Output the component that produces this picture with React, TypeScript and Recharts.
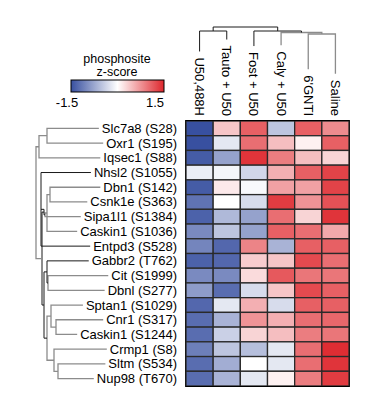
import { ReferenceArea, Scatter, ScatterChart, XAxis, YAxis } from "recharts";

const FONT = "Arial, 'Liberation Sans', sans-serif";

const COLUMNS = ["U50,488H", "Tauto + U50", "Fost + U50", "Caly + U50", "6'GNTI", "Saline"];
const ROWS = [
  "Slc7a8 (S28)",
  "Oxr1 (S195)",
  "Iqsec1 (S88)",
  "Nhsl2 (S1055)",
  "Dbn1 (S142)",
  "Csnk1e (S363)",
  "Sipa1l1 (S1384)",
  "Caskin1 (S1036)",
  "Entpd3 (S528)",
  "Gabbr2 (T762)",
  "Cit (S1999)",
  "Dbnl (S277)",
  "Sptan1 (S1029)",
  "Cnr1 (S317)",
  "Caskin1 (S1244)",
  "Crmp1 (S8)",
  "Sltm (S534)",
  "Nup98 (T670)",
];

// z-scores, one list per column, rows in the order above
const Z_U50 = [-1.5, -1.5, -1.4, -0.15, -1.4, -1.2, -1.35, -1.0, -1.05, -1.35, -1.0, -0.85, -1.3, -1.25, -1.25, -1.1, -1.25, -1.25];
const Z_TAUTO = [0.4, -0.2, -0.8, -0.08, 0.15, 0, -0.6, -0.5, -1.3, -1.3, -1.0, -1.25, -0.2, -0.65, -0.4, -0.5, -0.7, -0.65];
const Z_FOST = [1.1, 1.0, 1.4, -0.35, -0.05, -0.3, -0.8, -0.8, 0.85, 0.35, 0.25, -0.3, 0.55, 0.75, 0.3, -0.55, 0, -0.2];
const Z_CALY = [-0.5, 0.45, 0.9, 0.55, 0.65, 1.35, 1.0, 1.1, -0.65, 0.4, 1.15, 0.4, -0.3, 0.55, 0.45, -0.2, -0.2, 0.1];
const Z_GNTI = [1.1, 0.1, 0.45, 1.1, 0.65, 0.75, 0.3, 1.0, 1.1, 1.25, 0.95, 1.25, 1.1, 1.0, 0.9, 1.0, 1.0, 0.9];
const Z_SALINE = [0.8, 1.1, 0.3, 1.3, 1.3, 1.2, 1.4, 0.6, 1.1, 1.0, 0.95, 1.1, 1.1, 1.05, 0.95, 1.45, 1.4, 1.35];
const Z_COLUMNS = [Z_U50, Z_TAUTO, Z_FOST, Z_CALY, Z_GNTI, Z_SALINE];

const LEGEND_TICKS = ["-1.5", "1.5"];

const GRAY = "#8c8c8c";
const BLACK = "#1a1a1a";

// row dendrogram: [node, child, child, join depth (px from left), colour]
type Child = number | string;
const ROW_TREE: [string, Child, Child, number, string][] = [
  ["A", 0, 1, 47, GRAY],
  ["B", "A", 2, 39, GRAY],
  ["C", 4, 5, 50, GRAY],
  ["D", "C", 7, 47, GRAY],
  ["E", "D", 6, 45, GRAY],
  ["G", 3, 8, 41, BLACK],
  ["H", "G", "E", 44, BLACK],
  ["I", 10, 11, 48, GRAY],
  ["J", 9, "I", 47, BLACK],
  ["L", 13, 14, 56, GRAY],
  ["M", 12, "L", 51, GRAY],
  ["N", 16, 17, 58, GRAY],
  ["O", 15, "N", 54, GRAY],
  ["P", "M", "O", 47, GRAY],
  ["Q", "J", "P", 44, BLACK],
  ["S", "H", "Q", 42, BLACK],
  ["R", "B", "S", 36, GRAY],
];

// column dendrogram: [node, child, child, join height, colour]
const COL_TREE: [string, Child, Child, number, string][] = [
  ["W", 4, 5, 86, GRAY],
  ["Y", 3, "W", 87.5, GRAY],
  ["X", 2, "Y", 89, BLACK],
  ["U", 0, 1, 89, BLACK],
  ["T", "U", "X", 93, BLACK],
];

const W = 385;
const H = 403;
const PLOT_L = 186;
const PLOT_R = 349;
const PLOT_T = 121;
const PLOT_B = 386;
const CELL_W = (PLOT_R - PLOT_L) / COLUMNS.length;
const CELL_H = (PLOT_B - PLOT_T) / ROWS.length;
const ROW_LABEL_X = 177;
const COL_LABEL_Y = 116;
const DEND_BASE = 120;

const BLUE = [56, 80, 160];
const RED = [222, 38, 44];

function zColor(z: number) {
  const t = Math.max(-1, Math.min(1, z / 1.5));
  const c = t < 0 ? BLUE : RED;
  const a = Math.abs(t);
  const ch = c.map((v) => Math.round(255 + (v - 255) * a));
  return `rgb(${ch[0]},${ch[1]},${ch[2]})`;
}

let ctx: CanvasRenderingContext2D | null = null;
function textWidth(s: string) {
  if (!ctx && typeof document !== "undefined") ctx = document.createElement("canvas").getContext("2d");
  if (!ctx) return s.length * 7;
  ctx.font = `13px ${FONT}`;
  return ctx.measureText(s).width;
}

// each link: child a -> join -> child b, as [depth, position] pairs
function buildLinks(tree: [string, Child, Child, number, string][], leaf: (i: number) => [number, number]) {
  const pos: Record<string, [number, number]> = {};
  const get = (c: Child) => (typeof c === "number" ? leaf(c) : pos[c]);
  return tree.map(([id, a, b, h, color]) => {
    const pa = get(a);
    const pb = get(b);
    pos[id] = [h, (pa[1] + pb[1]) / 2];
    return {
      id,
      color,
      points: [
        { d: pa[0], k: pa[1] },
        { d: h, k: pa[1] },
        { d: h, k: pb[1] },
        { d: pb[0], k: pb[1] },
      ],
    };
  });
}

const cells = ROWS.flatMap((_, r) => Z_COLUMNS.map((col, c) => ({ x: c, y: r, z: col[r] })));

const ColTick = (props: any) => {
  const { x, payload } = props;
  return (
    <text
      x={x}
      y={COL_LABEL_Y}
      transform={`rotate(90 ${x} ${COL_LABEL_Y})`}
      textAnchor="end"
      dominantBaseline="central"
      fontSize={13}
      fontFamily={FONT}
      fill="#000"
    >
      {COLUMNS[payload.value]}
    </text>
  );
};

const RowTick = (props: any) => {
  const { y, payload } = props;
  return (
    <text x={ROW_LABEL_X} y={y} textAnchor="end" dominantBaseline="central" fontSize={13} fontFamily={FONT} fill="#000">
      {ROWS[payload.value]}
    </text>
  );
};

const CellShape = (p: any) => (
  <rect
    x={p.cx - CELL_W / 2}
    y={p.cy - CELL_H / 2}
    width={CELL_W}
    height={CELL_H}
    fill={zColor(p.payload.z)}
    stroke="#2a2a2a"
    strokeWidth={1.3}
  />
);

const NoDot = () => <g />;

const layer = { position: "absolute" as const, left: 0, top: 0 };

export default function App() {
  const rowLinks = buildLinks(ROW_TREE, (i) => [ROW_LABEL_X - textWidth(ROWS[i]) - 3, i]);
  const colLinks = buildLinks(COL_TREE, (i) => [DEND_BASE - (COL_LABEL_Y - textWidth(COLUMNS[i]) - 6), i]);

  return (
    <div style={{ position: "absolute", left: 0, top: 0, width: W, height: H, background: "#fff" }}>
      <div style={layer}>
        <ScatterChart width={W} height={H} margin={{ top: PLOT_T - 80, left: PLOT_L - 150, right: W - PLOT_R, bottom: H - PLOT_B }}>
          <XAxis
            dataKey="x"
            type="number"
            orientation="top"
            domain={[-0.5, 5.5]}
            ticks={[0, 1, 2, 3, 4, 5]}
            interval={0}
            allowDataOverflow
            height={80}
            axisLine={false}
            tickLine={false}
            tick={<ColTick />}
          />
          <YAxis
            dataKey="y"
            type="number"
            domain={[-0.5, 17.5]}
            ticks={ROWS.map((_, i) => i)}
            interval={0}
            reversed
            allowDataOverflow
            width={150}
            axisLine={false}
            tickLine={false}
            tick={<RowTick />}
          />
          <Scatter data={cells} shape={<CellShape />} isAnimationActive={false} />
          <ReferenceArea x1={-0.5} x2={5.5} y1={-0.5} y2={17.5} fill="none" stroke="#000" strokeWidth={1.8} ifOverflow="visible" />
        </ScatterChart>
      </div>

      <div style={layer}>
        <ScatterChart width={W} height={H} margin={{ top: PLOT_T, left: 0, right: 0, bottom: H - PLOT_B }}>
          <XAxis dataKey="d" type="number" domain={[0, W]} allowDataOverflow hide />
          <YAxis dataKey="k" type="number" domain={[-0.5, 17.5]} reversed allowDataOverflow hide />
          {rowLinks.map((l) => (
            <Scatter
              key={l.id}
              data={l.points}
              line={{ stroke: l.color, strokeWidth: l.color === GRAY ? 1.3 : 1 }}
              lineType="joint"
              shape={NoDot}
              isAnimationActive={false}
            />
          ))}
        </ScatterChart>
      </div>

      <div style={layer}>
        <ScatterChart width={W} height={H} margin={{ top: 20, left: PLOT_L, right: W - PLOT_R, bottom: H - DEND_BASE }}>
          <XAxis dataKey="x" type="number" domain={[-0.5, 5.5]} allowDataOverflow hide />
          <YAxis dataKey="y" type="number" domain={[0, 100]} allowDataOverflow hide />
          {colLinks.map((l) => (
            <Scatter
              key={l.id}
              data={l.points.map((p) => ({ x: p.k, y: p.d }))}
              line={{ stroke: l.color, strokeWidth: l.color === GRAY ? 1.3 : 1 }}
              lineType="joint"
              shape={NoDot}
              isAnimationActive={false}
            />
          ))}
        </ScatterChart>
      </div>

      <svg style={layer} width={W} height={120}>
        <defs>
          <linearGradient id="zgrad" x1="0" x2="1" y1="0" y2="0">
            <stop offset="0%" stopColor={zColor(-1.5)} />
            <stop offset="50%" stopColor="#fff" />
            <stop offset="100%" stopColor={zColor(1.5)} />
          </linearGradient>
        </defs>
        <text x={117} y={59} textAnchor="middle" dominantBaseline="central" fontSize={12.5} fontFamily={FONT}>
          phosphosite
        </text>
        <text x={117} y={72} textAnchor="middle" dominantBaseline="central" fontSize={12.5} fontFamily={FONT}>
          z-score
        </text>
        <rect x={71} y={80} width={93} height={12} fill="url(#zgrad)" stroke="#000" strokeWidth={1} />
        <text x={67} y={102} textAnchor="middle" dominantBaseline="central" fontSize={13} fontFamily={FONT}>
          {LEGEND_TICKS[0]}
        </text>
        <text x={164} y={102} textAnchor="end" dominantBaseline="central" fontSize={13} fontFamily={FONT}>
          {LEGEND_TICKS[1]}
        </text>
      </svg>
    </div>
  );
}
